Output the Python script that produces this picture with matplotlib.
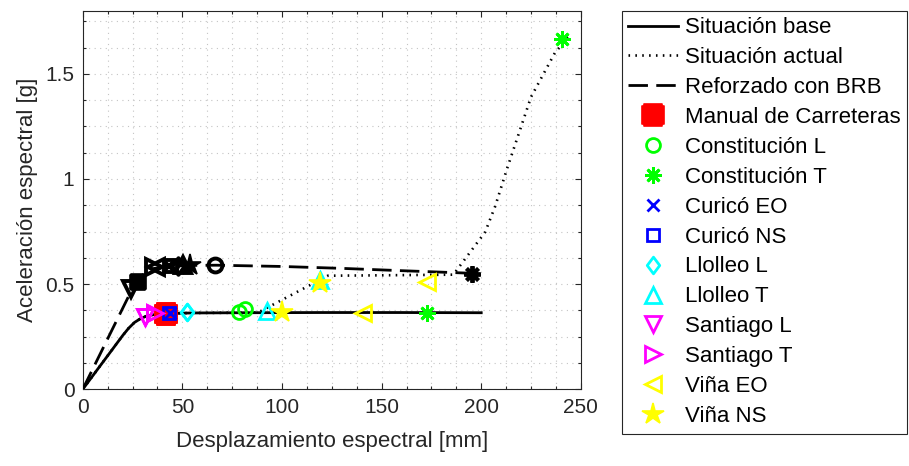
import matplotlib
matplotlib.use("Agg")
import matplotlib.pyplot as plt
from matplotlib.path import Path
from matplotlib.ticker import MultipleLocator

plt.rcParams['font.family'] = ['Liberation Sans', 'DejaVu Sans']
plt.rcParams['font.size'] = 15

# Capacity curves (spectral displacement [mm], spectral acceleration [g])
base_disp = [0, 20, 23, 26, 29, 32, 35, 39, 45, 55, 80, 120, 160, 200]
base_acc = [0, 0.255, 0.290, 0.318, 0.336, 0.348, 0.354, 0.358, 0.361, 0.363,
            0.364, 0.365, 0.365, 0.364]

actual_disp = [0, 20, 23, 26, 29, 32, 35, 39, 45, 55, 80, 88, 95, 110, 123, 150,
               186, 202, 207, 213, 225, 237, 245]
actual_acc = [0, 0.255, 0.290, 0.318, 0.336, 0.348, 0.354, 0.358, 0.361, 0.363,
              0.364, 0.365, 0.40, 0.475, 0.54, 0.542, 0.545, 0.748, 0.87, 1.05,
              1.39, 1.60, 1.69]

brb_disp = [0, 25, 27, 29, 32, 36, 42, 55, 67, 100, 130, 160, 180, 200]
brb_acc = [0, 0.48, 0.51, 0.535, 0.56, 0.575, 0.584, 0.589, 0.59, 0.584, 0.575,
           0.564, 0.557, 0.55]

# Performance points for each record
records = ['Manual de Carreteras', 'Constitución L', 'Constitución T', 'Curicó EO',
           'Curicó NS', 'Llolleo L', 'Llolleo T', 'Santiago L', 'Santiago T',
           'Viña EO', 'Viña NS']
rec_colors = ['#ff0000', '#00ff00', '#00ff00', '#0000ff', '#0000ff', '#00ffff',
              '#00ffff', '#ff00ff', '#ff00ff', '#ffff00', '#ffff00']

pp_base_disp = [42.0, 78.5, 173.0, 43.8, 43.2, 52.5, 92.5, 31.5, 36.5, 140.5, 100.0]
pp_base_acc = [0.360, 0.366, 0.364, 0.365, 0.364, 0.367, 0.374, 0.345, 0.362, 0.362, 0.367]

pp_actual_disp = [42.0, 81.3, 240.7, 43.8, 43.2, 52.5, 119.3, 31.5, 36.5, 172.7, 119.3]
pp_actual_acc = [0.360, 0.382, 1.666, 0.365, 0.364, 0.367, 0.520, 0.345, 0.362, 0.510, 0.505]

pp_brb_disp = [27.8, 66.5, 195.2, 43.5, 44.5, 48.0, 50.5, 24.3, 36.0, 36.8, 54.0]
pp_brb_acc = [0.512, 0.590, 0.550, 0.585, 0.586, 0.588, 0.589, 0.478, 0.580, 0.580, 0.590]

# Marker shapes
w = 0.78
notched_square = Path([(-w, 1), (w, 1), (w, w), (1, w), (1, -w), (w, -w), (w, -1),
                       (-w, -1), (-w, -w), (-1, -w), (-1, w), (-w, w), (-w, 1)],
                      closed=True)
diamond = Path([(0, 1), (0.75, 0), (0, -1), (-0.75, 0), (0, 1)], closed=True)
asterisk = (8, 2, 0)

styles = [
    dict(marker=notched_square, ms=16, filled=True),
    dict(marker='o', ms=10, filled=False),
    dict(marker=asterisk, ms=12, filled=False),
    dict(marker='x', ms=9, filled=False),
    dict(marker='s', ms=8.5, filled=False),
    dict(marker=diamond, ms=12, filled=False),
    dict(marker='^', ms=11, filled=False),
    dict(marker='v', ms=11, filled=False),
    dict(marker='>', ms=11, filled=False),
    dict(marker='<', ms=11, filled=False),
    dict(marker='*', ms=16, filled=True),
]

fig = plt.figure(figsize=(9.09, 4.66), dpi=100)
ax = fig.add_axes([0.091, 0.1646, 0.548, 0.8124])

dark = '#262626'
grid_col = '#c4c4c4'

l_base, = ax.plot(base_disp, base_acc, '-', color='k', lw=2.0,
                  solid_joinstyle='round', label='Situación base', zorder=3)
l_act, = ax.plot(actual_disp, actual_acc, color='k', lw=1.9, linestyle=(0, (0.6, 2.0)),
                 dash_capstyle='butt', label='Situación actual', zorder=3)
l_brb, = ax.plot(brb_disp, brb_acc, color='k', lw=2.0, linestyle=(0, (7, 3)),
                 label='Reforzado con BRB', zorder=3)


def draw_points(xs, ys, color, mew, label=False, z=4, scale=1.0):
    handles = []
    for i, st in enumerate(styles):
        c = color if color is not None else rec_colors[i]
        mfc = c if st['filled'] else 'none'
        ms = st['ms'] * (scale if i == 0 else 1.0)
        h, = ax.plot([xs[i]], [ys[i]], linestyle='none', marker=st['marker'],
                     ms=ms, mec=c, mfc=mfc,
                     mew=(1.2 if st['filled'] else mew),
                     label=(records[i] if label else '_nolegend_'), zorder=z)
        handles.append(h)
    return handles


draw_points(pp_brb_disp, pp_brb_acc, 'k', 2.8, z=4, scale=0.75)
draw_points(pp_actual_disp, pp_actual_acc, None, 2.0, z=5)
rec_handles = draw_points(pp_base_disp, pp_base_acc, None, 2.0, label=True, z=5)

ax.set_xlim(0, 250)
ax.set_ylim(0, 1.8)
ax.set_xticks([0, 50, 100, 150, 200, 250])
ax.set_yticks([0, 0.5, 1, 1.5])
ax.set_yticklabels(['0', '0.5', '1', '1.5'])
ax.xaxis.set_minor_locator(MultipleLocator(12.5))
ax.yaxis.set_minor_locator(MultipleLocator(0.125))

ax.grid(which='both', color=grid_col, linestyle=(0, (1, 4)), linewidth=0.8)
ax.set_axisbelow(True)

ax.tick_params(which='both', direction='in', top=True, right=True, colors=dark,
               labelcolor=dark, labelsize=15, width=0.8)
ax.tick_params(which='major', length=4.5, pad=6)
ax.tick_params(which='minor', length=2)
for s in ax.spines.values():
    s.set_color(dark)
    s.set_linewidth(0.8)

ax.set_xlabel('Desplazamiento espectral [mm]', color=dark, fontsize=16, labelpad=10)
ax.set_ylabel('Aceleración espectral [g]', color=dark, fontsize=16, labelpad=5)

leg = ax.legend(handles=[l_base, l_act, l_brb] + rec_handles,
                loc='upper left', bbox_to_anchor=(0.684, 0.977),
                bbox_transform=fig.transFigure, borderaxespad=0,
                fontsize=16, handlelength=2.25, handletextpad=0.28,
                labelspacing=0.40, borderpad=0.3, numpoints=1,
                fancybox=False, framealpha=1, edgecolor=dark)
leg.get_frame().set_linewidth(0.8)
for t in leg.get_texts():
    t.set_color('black')

fig.savefig('out.png', dpi=100)
